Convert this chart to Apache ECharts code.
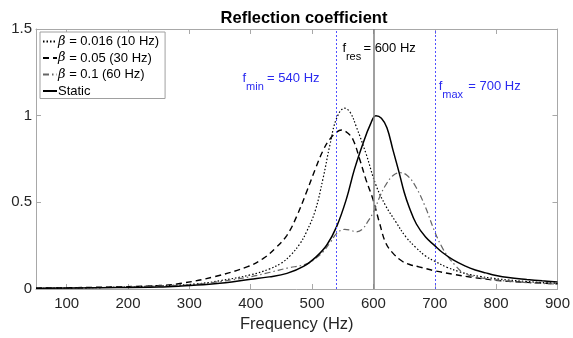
<!DOCTYPE html>
<html><head><meta charset="utf-8">
<script src="https://cdn.jsdelivr.net/npm/echarts@6/dist/echarts.min.js"></script>
<style>html,body{margin:0;padding:0;background:#fff}#c{width:573px;height:338px}</style>
</head><body><div id="c"></div>
<script>
// ---- data ----
const xTicks = [100, 200, 300, 400, 500, 600, 700, 800, 900];
const yTicks = [0, 0.5, 1, 1.5];
const seriesNames = ['β = 0.016 (10 Hz)', 'β = 0.05 (30 Hz)', 'β = 0.1 (60 Hz)', 'Static'];

const freqDot = [50,150,250,313,350,400,430,450,465,480,491,505,518,529,540,553,562,572,588,604,620,636,653,669,685,700,720,740,755,775,794,820,850,875,900];
const valDot  = [0.004,0.008,0.018,0.03,0.048,0.082,0.115,0.15,0.195,0.26,0.33,0.45,0.64,0.83,0.985,1.043,1.02,0.937,0.78,0.6,0.48,0.39,0.3,0.24,0.19,0.16,0.125,0.10,0.085,0.072,0.062,0.052,0.043,0.037,0.033];

const freqDash = [50,150,250,287,341,395,420,440,459,475,491,505,518,529,540,548,558,567,578,588,599,610,620,631,647,660,674,700,730,760,794,830,870,900];
const valDash  = [0.005,0.01,0.02,0.033,0.071,0.129,0.175,0.235,0.31,0.42,0.56,0.69,0.8,0.865,0.905,0.917,0.9,0.86,0.744,0.629,0.52,0.38,0.266,0.21,0.16,0.14,0.128,0.105,0.085,0.068,0.052,0.042,0.035,0.03];

const freqGray = [50,150,250,313,350,400,430,459,491,507,518,530,540,553,562,572,582,591,601,610,620,632,643,655,669,685,700,712,723,735,744,760,783,820,860,900];
const valGray  = [0.004,0.008,0.017,0.028,0.043,0.071,0.095,0.12,0.145,0.18,0.215,0.27,0.32,0.344,0.34,0.33,0.345,0.39,0.45,0.53,0.60,0.655,0.671,0.655,0.59,0.47,0.33,0.24,0.18,0.13,0.10,0.075,0.06,0.045,0.035,0.028];

const freqStatic = [50,150,250,287,341,400,430,459,486,507,524,540,556,569,583,595,604,613,622,632,642,650,658,670,685,700,712,730,750,766,783,800,820,850,875,900];
const valStatic  = [0.004,0.007,0.011,0.017,0.03,0.056,0.07,0.09,0.13,0.187,0.254,0.36,0.52,0.69,0.84,0.95,1.0,0.985,0.93,0.8,0.67,0.56,0.475,0.375,0.30,0.25,0.212,0.168,0.132,0.11,0.093,0.078,0.066,0.055,0.047,0.04];

const fMin = 540, fRes = 600, fMax = 700;

// ---- chart ----
const pair = (xs, ys) => xs.map((x, i) => [x, ys[i]]);
const chart = echarts.init(document.getElementById('c'), null, {renderer: 'canvas'});
const FONT = 'Liberation Sans, Arial, sans-serif';
const AX = '#a8a8a8', TX = '#262626';

const baseLine = (name, data, style) => ({
  name, type: 'line', data, showSymbol: false, symbol: 'none',
  smooth: 0.4, lineStyle: style, itemStyle: {color: style.color},
  z: 3, silent: true
});

const series = [
  baseLine(seriesNames[0], pair(freqDot, valDot), {color: '#000', width: 1.2, type: [1.5, 2]}),
  baseLine(seriesNames[1], pair(freqDash, valDash), {color: '#000', width: 1.4, type: [6, 4]}),
  baseLine(seriesNames[2], pair(freqGray, valGray), {color: '#666', width: 1.2, type: [6, 3, 1.5, 3]}),
  baseLine(seriesNames[3], pair(freqStatic, valStatic), {color: '#000', width: 1.5, type: 'solid'}),
];
series.push({
  type: 'line', data: [], silent: true, z: 2,
  markLine: {
    symbol: 'none', silent: true, label: {show: false},
    data: [
      {xAxis: fMin, lineStyle: {color: '#5050ff', type: [2, 2], width: 1}},
      {xAxis: fRes, lineStyle: {color: '#808080', type: 'solid', width: 1.5}},
      {xAxis: fMax, lineStyle: {color: '#5050ff', type: [2, 2], width: 1}},
    ]
  }
});

const option = {
  animation: false,
  backgroundColor: '#fff',
  title: {
    text: 'Reflection coefficient', left: 299, top: 5, textAlign: 'center',
    textStyle: {fontFamily: FONT, fontSize: 16.5, fontWeight: 'bold', color: '#000'}
  },
  grid: {left: 36, right: 11, top: 29, bottom: 49, containLabel: false},
  legend: {
    data: seriesNames, orient: 'vertical', left: 40, top: 32,
    itemWidth: 14, itemHeight: 14, itemGap: 3.5,
    padding: [3, 6, 1, 2], borderColor: '#a0a0a0', borderWidth: 1, backgroundColor: '#fff',
    selectedMode: false,
    itemStyle: {opacity: 0},
    formatter: n => n.startsWith('β') ? '{i|β}' + n.slice(1) : n,
    textStyle: {fontFamily: FONT, fontSize: 13, color: '#000', padding: [0, 0, 0, -4],
      rich: {i: {fontFamily: 'DejaVu Serif, serif', fontStyle: 'italic', fontSize: 13, color: '#000'}}}
  },
  xAxis: [{
    type: 'value', min: 50, max: 900, position: 'bottom',
    name: 'Frequency (Hz)', nameLocation: 'middle', nameGap: 26,
    nameTextStyle: {fontFamily: FONT, fontSize: 16.5, color: TX},
    axisLine: {show: true, onZero: false, lineStyle: {color: AX, width: 1}},
    axisTick: {show: true, inside: true, length: 5, customValues: xTicks, lineStyle: {color: AX}},
    axisLabel: {customValues: xTicks, margin: 7, fontFamily: FONT, fontSize: 15, color: TX},
    splitLine: {show: false}
  }, {
    type: 'value', min: 50, max: 900, position: 'top',
    axisLine: {show: true, onZero: false, lineStyle: {color: AX, width: 1}},
    axisTick: {show: true, inside: true, length: 5, customValues: xTicks, lineStyle: {color: AX}},
    axisLabel: {show: false}, splitLine: {show: false}
  }],
  yAxis: [{
    type: 'value', min: 0, max: 1.5, interval: 0.5, position: 'left',
    axisLine: {show: true, onZero: false, lineStyle: {color: AX, width: 1}},
    axisTick: {show: true, inside: true, length: 5, lineStyle: {color: AX}},
    axisLabel: {margin: 4, fontFamily: FONT, fontSize: 15, color: TX, formatter: v => String(v)},
    splitLine: {show: false}
  }, {
    type: 'value', min: 0, max: 1.5, interval: 0.5, position: 'right',
    axisLine: {show: true, onZero: false, lineStyle: {color: AX, width: 1}},
    axisTick: {show: true, inside: true, length: 5, lineStyle: {color: AX}},
    axisLabel: {show: false}, splitLine: {show: false}
  }],
  series
};
chart.setOption(option);

// annotations anchored to the marker lines
const px = v => chart.convertToPixel({xAxisIndex: 0}, v);
const BLUE = '#2a2af0';
const txt = (x, y, s, size, color) => ({
  type: 'text', x, y, silent: true, z: 10,
  style: {text: s, fontFamily: FONT, fontSize: size, fill: color, textVerticalAlign: 'middle', textAlign: 'left'}
});
const xMin = px(fMin), xRes = px(fRes), xMax = px(fMax);
chart.setOption({
  graphic: [
    txt(xRes - 31, 48.5, 'f', 13, '#000'),
    txt(xRes - 27.5, 56.5, 'res', 11, '#000'),
    txt(xRes - 10, 48.5, '= 600 Hz', 13, '#000'),
    txt(xMin - 94, 78.5, 'f', 13, BLUE),
    txt(xMin - 90.5, 87, 'min', 11, BLUE),
    txt(xMin - 69.5, 78.5, '= 540 Hz', 13, BLUE),
    txt(xMax + 4, 86, 'f', 13, BLUE),
    txt(xMax + 7.5, 94.5, 'max', 11, BLUE),
    txt(xMax + 33.5, 86, '= 700 Hz', 13, BLUE),
  ]
});
</script>
</body></html>
